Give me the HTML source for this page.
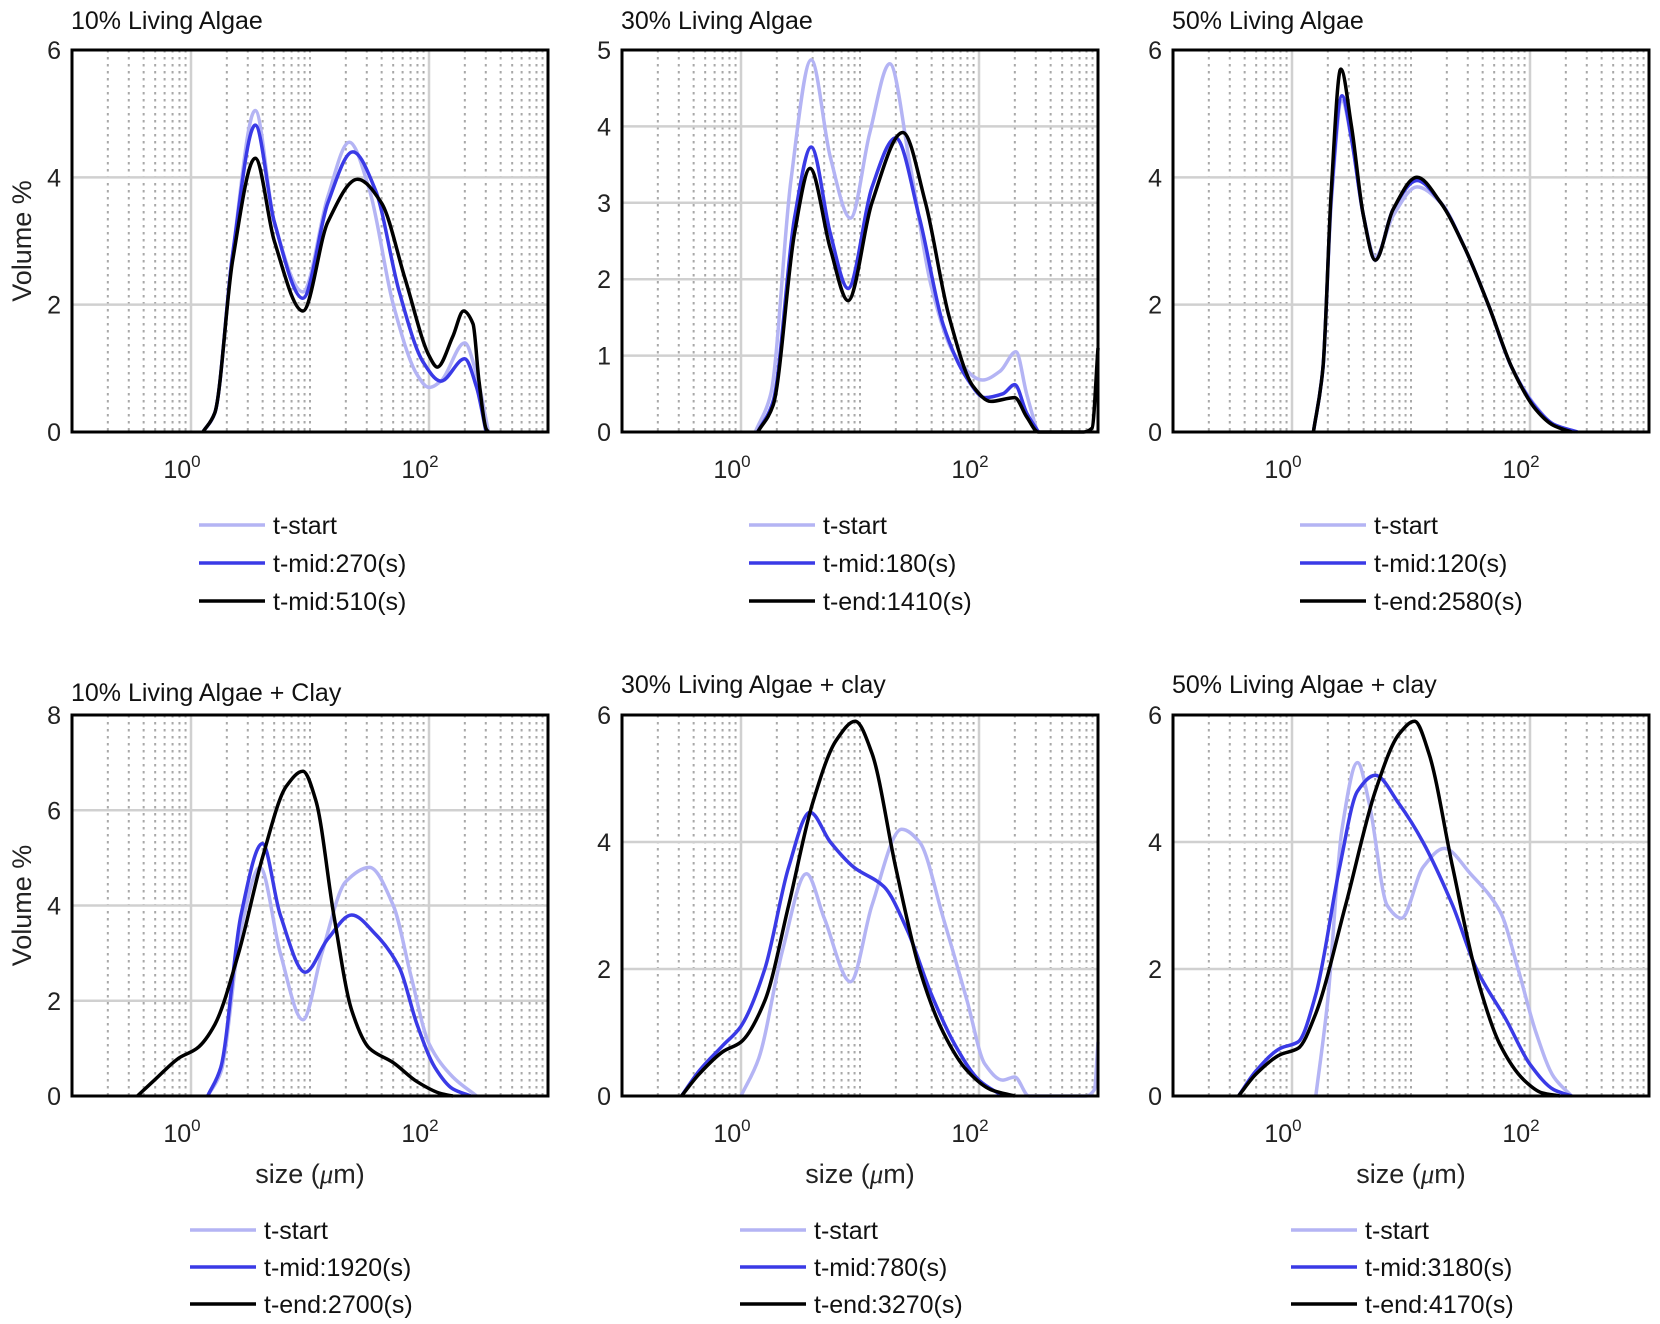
<!DOCTYPE html>
<html><head><meta charset="utf-8"><style>
html,body{margin:0;padding:0;background:#fff;}
svg{display:block;font-family:"Liberation Sans",sans-serif;}
</style></head><body>
<svg id="fig" width="1660" height="1324" viewBox="0 0 1660 1324"></svg>
<script>
// ---- data (x values are log10(size in µm)) ----
const panelTitles = ["10% Living Algae","30% Living Algae","50% Living Algae","10% Living Algae + Clay","30% Living Algae + clay","50% Living Algae + clay"];
const yMaxes = [6,5,6,8,6,6];
const yStepArr = [2,1,2,2,2,2];
const legendLabels = [
 ["t-start","t-mid:270(s)","t-mid:510(s)"],
 ["t-start","t-mid:180(s)","t-end:1410(s)"],
 ["t-start","t-mid:120(s)","t-end:2580(s)"],
 ["t-start","t-mid:1920(s)","t-end:2700(s)"],
 ["t-start","t-mid:780(s)","t-end:3270(s)"],
 ["t-start","t-mid:3180(s)","t-end:4170(s)"]];
const xTickLabels = ["0","2"];

// panel 1
const p1StartX=[0.1,0.2,0.35,0.54,0.7,0.94,1.15,1.33,1.5,1.7,1.9,2.0,2.1,2.3,2.4,2.5];
const p1StartY=[0,0.3,2.8,5.05,3.3,2.2,3.7,4.55,3.8,2.0,0.9,0.7,0.8,1.4,0.9,0];
const p1MidX=[0.1,0.2,0.35,0.54,0.7,0.94,1.15,1.36,1.55,1.75,1.95,2.1,2.3,2.4,2.48];
const p1MidY=[0,0.3,2.8,4.82,3.3,2.1,3.6,4.4,3.8,2.2,1.1,0.8,1.15,0.7,0];
const p1EndX=[0.1,0.2,0.35,0.54,0.7,0.94,1.15,1.4,1.6,1.8,2.0,2.07,2.2,2.29,2.37,2.42,2.48,2.5];
const p1EndY=[0,0.3,2.7,4.3,3.0,1.9,3.3,3.97,3.6,2.4,1.2,1.02,1.5,1.9,1.7,0.8,0.05,0];
// panel 2
const p2StartX=[0.12,0.25,0.42,0.59,0.75,0.92,1.08,1.25,1.42,1.6,1.8,2.03,2.18,2.31,2.4,2.49];
const p2StartY=[0,0.5,3.3,4.87,3.6,2.8,3.9,4.82,3.5,1.9,1.0,0.68,0.8,1.05,0.5,0];
const p2MidX=[0.14,0.27,0.45,0.59,0.75,0.9,1.1,1.3,1.5,1.7,1.9,2.05,2.2,2.3,2.4,2.5];
const p2MidY=[0,0.4,2.8,3.73,2.6,1.88,3.2,3.85,2.8,1.4,0.7,0.45,0.5,0.62,0.25,0];
const p2EndX=[0.14,0.27,0.45,0.58,0.75,0.9,1.1,1.36,1.55,1.75,1.95,2.1,2.3,2.4,2.5,2.88,2.95,3.0];
const p2EndY=[0,0.35,2.6,3.45,2.4,1.72,3.0,3.92,3.0,1.5,0.6,0.4,0.45,0.2,0,0,0.05,1.1];
// panel 3
const p3StartX=[0.18,0.26,0.33,0.42,0.5,0.6,0.7,0.85,1.05,1.25,1.45,1.65,1.85,2.05,2.2,2.38];
const p3StartY=[0,1.0,3.6,5.2,4.6,3.4,2.75,3.4,3.85,3.6,2.9,2.0,1.0,0.4,0.12,0];
const p3MidX=[0.18,0.26,0.33,0.42,0.5,0.6,0.7,0.85,1.05,1.25,1.45,1.65,1.85,2.05,2.2,2.4];
const p3MidY=[0,1.0,3.7,5.28,4.6,3.4,2.7,3.5,3.95,3.6,2.9,2.0,1.0,0.38,0.12,0];
const p3EndX=[0.18,0.26,0.33,0.41,0.5,0.6,0.7,0.85,1.05,1.25,1.45,1.65,1.85,2.05,2.2,2.35];
const p3EndY=[0,1.0,3.8,5.7,4.8,3.4,2.7,3.5,4.0,3.6,2.9,2.0,1.0,0.35,0.1,0];
// panel 4
const p4StartX=[0.14,0.25,0.42,0.58,0.75,0.94,1.1,1.3,1.5,1.7,1.85,2.0,2.2,2.4];
const p4StartY=[0,0.5,3.5,4.8,3.0,1.6,3.0,4.5,4.8,4.0,2.5,1.1,0.4,0];
const p4MidX=[0.14,0.25,0.42,0.6,0.75,0.96,1.15,1.35,1.55,1.75,1.9,2.05,2.2,2.35];
const p4MidY=[0,0.6,3.8,5.3,3.8,2.6,3.3,3.8,3.4,2.7,1.5,0.6,0.15,0];
const p4EndX=[-0.45,-0.3,-0.1,0.05,0.2,0.4,0.6,0.8,0.94,1.05,1.2,1.35,1.5,1.7,1.9,2.1,2.2];
const p4EndY=[0,0.35,0.8,1.0,1.5,3.0,5.0,6.5,6.82,6.2,3.8,1.8,1.0,0.7,0.3,0.05,0];
// panel 5
const p5StartX=[0.0,0.15,0.35,0.55,0.7,0.92,1.1,1.35,1.5,1.7,1.9,2.05,2.2,2.3,2.42,2.9,2.97,3.0];
const p5StartY=[0,0.6,2.3,3.5,2.8,1.8,3.0,4.2,4.0,2.8,1.5,0.5,0.25,0.3,0,0,0.1,0.85];
const p5MidX=[-0.5,-0.35,-0.15,0.0,0.2,0.4,0.58,0.75,0.95,1.2,1.4,1.6,1.8,2.0,2.2];
const p5MidY=[0,0.4,0.8,1.1,2.0,3.6,4.47,4.0,3.6,3.3,2.6,1.6,0.8,0.25,0];
const p5EndX=[-0.5,-0.35,-0.15,0.0,0.2,0.4,0.6,0.8,0.96,1.1,1.3,1.5,1.7,1.9,2.1,2.3];
const p5EndY=[0,0.35,0.7,0.85,1.5,3.0,4.6,5.6,5.9,5.4,3.6,2.0,1.0,0.4,0.1,0];
// panel 6
const p6StartX=[0.2,0.3,0.42,0.55,0.65,0.8,0.92,1.1,1.28,1.5,1.75,1.9,2.05,2.2,2.35];
const p6StartY=[0,1.5,4.2,5.25,4.6,3.0,2.8,3.6,3.9,3.5,2.9,2.0,1.0,0.3,0];
const p6MidX=[-0.45,-0.3,-0.1,0.05,0.2,0.4,0.55,0.7,0.9,1.1,1.35,1.55,1.8,2.0,2.2,2.35];
const p6MidY=[0,0.4,0.75,0.85,1.6,3.6,4.8,5.05,4.6,4.0,3.0,2.0,1.2,0.5,0.1,0];
const p6EndX=[-0.45,-0.3,-0.1,0.05,0.2,0.45,0.7,0.9,1.03,1.15,1.35,1.55,1.75,1.95,2.1,2.25];
const p6EndY=[0,0.35,0.65,0.75,1.3,3.0,4.8,5.7,5.9,5.4,3.6,1.9,0.8,0.25,0.05,0];

const seriesX=[[p1StartX,p1MidX,p1EndX],[p2StartX,p2MidX,p2EndX],[p3StartX,p3MidX,p3EndX],[p4StartX,p4MidX,p4EndX],[p5StartX,p5MidX,p5EndX],[p6StartX,p6MidX,p6EndX]];
const seriesY=[[p1StartY,p1MidY,p1EndY],[p2StartY,p2MidY,p2EndY],[p3StartY,p3MidY,p3EndY],[p4StartY,p4MidY,p4EndY],[p5StartY,p5MidY,p5EndY],[p6StartY,p6MidY,p6EndY]];

// ---- layout ----
const NS="http://www.w3.org/2000/svg";
const svg=document.getElementById('fig');
const colL=[72,622,1173], W=476;
const rowT=[50,715], rowB=[432,1096];
const colors=["#b4b4f4","#3a3ae6","#000000"];
const names=["t-start","t-mid","t-end"];
function mk(tag,attrs,parent){const e=document.createElementNS(NS,tag);for(const k in attrs)e.setAttribute(k,attrs[k]);(parent||svg).appendChild(e);return e;}
function monotone(xs,ys){
  const n=xs.length; if(n<2) return "";
  const d=[],m=[];
  for(let i=0;i<n-1;i++) d.push((ys[i+1]-ys[i])/(xs[i+1]-xs[i]));
  m[0]=d[0]; m[n-1]=d[n-2];
  for(let i=1;i<n-1;i++){ if(d[i-1]*d[i]<=0) m[i]=0; else m[i]=2/(1/d[i-1]+1/d[i]); }
  let p="M"+xs[0].toFixed(1)+","+ys[0].toFixed(1);
  for(let i=0;i<n-1;i++){const h=xs[i+1]-xs[i];
    p+=" C"+(xs[i]+h/3).toFixed(1)+","+(ys[i]+m[i]*h/3).toFixed(1)+" "+(xs[i+1]-h/3).toFixed(1)+","+(ys[i+1]-m[i+1]*h/3).toFixed(1)+" "+xs[i+1].toFixed(1)+","+ys[i+1].toFixed(1);}
  return p;
}
for(let p=0;p<6;p++){
  const r=Math.floor(p/3), c=p%3;
  const L=colL[c], R=L+W, T=rowT[r], B=rowB[r];
  const ymax=yMaxes[p];
  const xs=v=>L+(v+1)/4*W;
  const ys=v=>B-v/ymax*(B-T);
  const g=mk('g',{});
  
  
  for(let d=-1;d<3;d++){for(let k=1;k<10;k++){
    const lv=d+Math.log10(k); if(lv<=-1) continue;
    const major=(k===1&&(d===0||d===2));
    const ln=mk('line',{x1:xs(lv),x2:xs(lv),y1:T,y2:B,stroke:major?"#d0d0d0":"#a8a8a8","stroke-width":major?2.5:2,"stroke-dasharray":major?"none":"2.5,4.5"},g);
    
    
  }}
  for(let v=yStepArr[p];v<ymax;v+=yStepArr[p]){
    const ln=mk('line',{x1:L,x2:R,y1:ys(v),y2:ys(v),stroke:"#d0d0d0","stroke-width":2.5},g);
    
    
  }
  for(let s=0;s<3;s++){
    const px=seriesX[p][s].map(xs), py=seriesY[p][s].map(ys);
    const path=mk('path',{d:monotone(px,py),fill:"none",stroke:colors[s],"stroke-width":3.5,"stroke-linejoin":"round"},g);
    
    
  }
  const box=mk('rect',{x:L,y:T,width:W,height:B-T,fill:"none",stroke:"#000","stroke-width":3},g);
  
  
  for(let v=0;v<=ymax+1e-9;v+=yStepArr[p]){
    const t=mk('text',{x:L-11,y:ys(v)+9,"text-anchor":"end","font-size":25,fill:"#222"},g);
    t.textContent=v;
    
    
  }
  xTickLabels.forEach(e=>{
    const t=mk('text',{x:xs(+e)-9,y:B+46,"text-anchor":"middle","font-size":25,fill:"#222"},g);
    t.textContent="10";
    const sp=mk('tspan',{dy:-11,"font-size":17},t); sp.textContent=e;
    
    
  });
  const ty = r===0?29:(c===0?701:693);
  const tt=mk('text',{x:L-1,y:ty,"font-size":25,fill:"#111"},g);
  tt.textContent=panelTitles[p];
  
  
  if(c===0){
    const cy=(T+B)/2;
    const yl=mk('text',{x:0,y:0,transform:`translate(31,${cy}) rotate(-90)`,"text-anchor":"middle","font-size":27,fill:"#222"},g);
    yl.textContent="Volume %";
    
    
  }
  if(r===1){
    const xl=mk('text',{x:L+W/2,y:1183,"text-anchor":"middle","font-size":27,fill:"#222"},g);
    xl.textContent="size (";
    const mu=mk('tspan',{"font-style":"italic","font-family":"Liberation Serif, serif"},xl); mu.textContent="μ";
    const rest=mk('tspan',{},xl); rest.textContent="m)";
    
    
  }
  const lx0 = L+(r===0?127:118);
  const ly = r===0?[525,563,601]:[1230,1267,1304];
  for(let s=0;s<3;s++){
    const lg=mk('g',{},g);
    
    
    mk('line',{x1:lx0,x2:lx0+66,y1:ly[s],y2:ly[s],stroke:colors[s],"stroke-width":3.5},lg);
    const t=mk('text',{x:lx0+74,y:ly[s]+9,"font-size":25,fill:"#111"},lg);
    t.textContent=legendLabels[p][s];
  }
}
</script>
</body></html>
